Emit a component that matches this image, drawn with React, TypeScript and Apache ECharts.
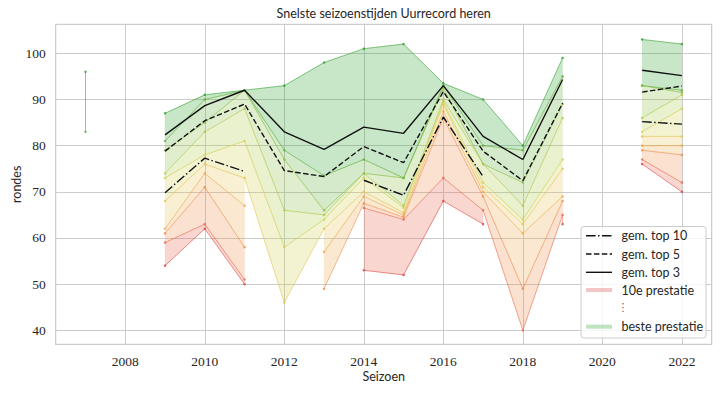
import React, { useEffect, useRef } from "react";
import * as echarts from "echarts";

// ---- data ----
const seasons = [2007, 2008, 2009, 2010, 2011, 2012, 2013, 2014, 2015, 2016, 2017, 2018, 2019, 2020, 2021, 2022];

// sorted performances (laps) per season, best first
const perf2007 = [96, 83];
const perf2008: number[] = [];
const perf2009 = [87, 81, 79, 74, 73, 68, 62, 61, 59, 54];
const perf2010 = [91, 90, 85, 83, 78, 76, 74, 71, 63, 62];
const perf2011 = [92, 92, 92, 88, 81, 73, 67, 58, 51, 50];
const perf2012 = [93, 79, 77, 66, 58, 46];
const perf2013 = [98, 73.5, 66, 65, 64, 62, 57, 49];
const perf2014 = [101, 77, 74, 74, 73, 70, 69, 67.5, 66.5, 53];
const perf2015 = [102, 73, 73, 67, 66.5, 65.5, 65, 64.5, 64, 52];
const perf2016 = [93.5, 93, 92.5, 90, 89.5, 89, 87.5, 86, 73, 68];
const perf2017 = [90, 80, 76, 76, 72, 71, 70, 69, 66, 63];
const perf2018 = [80, 79, 72, 67, 64, 63, 61, 49, 40];
const perf2019 = [99, 95, 89, 86, 77, 75, 69, 68, 65, 63];
const perf2020: number[] = [];
const perf2021 = [103, 93, 93, 86, 83, 82, 80, 79, 77, 76];
const perf2022 = [102, 92, 91.5, 91, 88, 82, 80, 78, 72, 70];

const performances = [
  perf2007, perf2008, perf2009, perf2010, perf2011, perf2012, perf2013, perf2014,
  perf2015, perf2016, perf2017, perf2018, perf2019, perf2020, perf2021, perf2022,
];

const xTicks = [2008, 2010, 2012, 2014, 2016, 2018, 2020, 2022];
const yTicks = [40, 50, 60, 70, 80, 90, 100];

const meanLabels = ["gem. top 10", "gem. top 5", "gem. top 3"];
const meanCounts = [10, 5, 3];

const rankColors = [
  "#2ca02c", "#5aae35", "#86bc3e", "#aec847", "#d0cf4f",
  "#e6c350", "#efa64c", "#ef8a4a", "#e8664a", "#d94040",
];

// ---- helpers ----
const X_MIN = 2006.25;
const X_MAX = 2022.75;
const Y_MIN = 36.97;
const Y_MAX = 106.28;

function rgba(hex: string, a: number) {
  const n = parseInt(hex.slice(1), 16);
  return `rgba(${(n >> 16) & 255},${(n >> 8) & 255},${n & 255},${a})`;
}

function valueAt(i: number, r: number): number | null {
  const p = performances[i];
  return r < p.length ? p[r] : null;
}

function meanTop(i: number, n: number): number | null {
  const p = performances[i];
  if (p.length < n) return null;
  let s = 0;
  for (let k = 0; k < n; k++) s += p[k];
  return s / n;
}

function runsFor(r: number): number[][] {
  const runs: number[][] = [];
  let cur: number[] = [];
  seasons.forEach((_, i) => {
    const ok = valueAt(i, r) != null && valueAt(i, r + 1) != null;
    if (ok) cur.push(i);
    else {
      if (cur.length) runs.push(cur);
      cur = [];
    }
  });
  if (cur.length) runs.push(cur);
  return runs;
}

const SANS = "Lato";
const SERIF = "Liberation Serif";
const TXT = "#262626";

function buildOption(): any {
  const series: any[] = [];

  // bands between consecutive ranks
  for (let r = 0; r < 9; r++) {
    const runs = runsFor(r);
    const color = rankColors[r];
    series.push({
      type: "custom",
      silent: true,
      z: 1,
      clip: false,
      data: runs.map((run) => [seasons[run[0]], valueAt(run[0], r)]),
      renderItem: (params: any, api: any) => {
        const run = runs[params.dataIndex];
        const top = run.map((i) => api.coord([seasons[i], valueAt(i, r)]));
        const bot = run.map((i) => api.coord([seasons[i], valueAt(i, r + 1)])).reverse();
        if (run.length === 1) {
          return {
            type: "line",
            shape: { x1: top[0][0], y1: top[0][1], x2: bot[0][0], y2: bot[0][1] },
            style: { stroke: rgba(color, 0.55), lineWidth: 1 },
          };
        }
        return {
          type: "polygon",
          shape: { points: [...top, ...bot] },
          style: { fill: rgba(color, 0.26), stroke: rgba(color, 0.12), lineWidth: 0.5 },
        };
      },
    });
  }

  // rank lines
  for (let r = 0; r < 10; r++) {
    const color = rankColors[r];
    series.push({
      type: "line",
      silent: true,
      z: 2,
      data: seasons.map((s, i) => [s, valueAt(i, r)]),
      connectNulls: false,
      showSymbol: true,
      symbol: "circle",
      symbolSize: 2.5,
      lineStyle: { color: rgba(color, 0.55), width: 1 },
      itemStyle: { color: rgba(color, 0.8) },
    });
  }

  // mean lines
  const dashes: any[] = [[9.6, 2.4, 1.5, 2.4], [5.5, 2.4], "solid"];
  meanCounts.forEach((n, m) => {
    series.push({
      type: "line",
      name: meanLabels[m],
      silent: true,
      z: 3,
      data: seasons.map((s, i) => [s, meanTop(i, n)]),
      connectNulls: false,
      showSymbol: false,
      lineStyle: { color: "#111111", width: 1.4, type: dashes[m] },
    });
  });

  // legend (drawn)
  const lx1 = 586, lx2 = 612, tx = 621.5;
  const legendGraphics: any[] = [
    {
      type: "rect",
      shape: { x: 581, y: 226.5, width: 125, height: 111.5, r: 3 },
      style: { fill: "rgba(255,255,255,0.8)", stroke: "#cccccc", lineWidth: 1 },
      z: 100,
    },
  ];
  const entries = [
    { y: 235.7, label: meanLabels[0], stroke: "#111111", w: 1.4, dash: [9.6, 2.4, 1.5, 2.4] },
    { y: 254, label: meanLabels[1], stroke: "#111111", w: 1.4, dash: [5.5, 2.4] },
    { y: 272.3, label: meanLabels[2], stroke: "#111111", w: 1.4, dash: null },
    { y: 290, label: "10e prestatie", stroke: rgba(rankColors[9], 0.3), w: 4, dash: null },
    { y: 326.7, label: "beste prestatie", stroke: rgba(rankColors[0], 0.3), w: 4, dash: null },
  ];
  entries.forEach((e) => {
    legendGraphics.push({
      type: "line",
      shape: { x1: lx1, y1: e.y, x2: lx2, y2: e.y },
      style: { stroke: e.stroke, lineWidth: e.w, lineDash: e.dash || undefined },
      z: 101,
    });
    legendGraphics.push({
      type: "text",
      x: tx,
      y: e.y,
      style: { text: e.label, fontFamily: SANS, fontSize: 12.5, fill: TXT, textAlign: "left", textVerticalAlign: "middle" },
      z: 101,
    });
  });
  legendGraphics.push({
    type: "text",
    x: 623,
    y: 307,
    style: { text: "⋮", fontFamily: "DejaVu Sans", fontSize: 11, fill: "#666666", textAlign: "center", textVerticalAlign: "middle" },
    z: 101,
  });

  return {
    animation: false,
    backgroundColor: "#ffffff",
    grid: {
      left: 55.7,
      right: 8.3,
      top: 24.3,
      bottom: 48.7,
      containLabel: false,
      outerBoundsMode: "none",
      show: true,
      borderColor: "#cccccc",
      borderWidth: 1.2,
      backgroundColor: "transparent",
    },
    xAxis: {
      type: "value",
      min: X_MIN,
      max: X_MAX,
      splitNumber: 8,
      name: "Seizoen",
      nameLocation: "middle",
      nameGap: 26,
      nameMoveOverlap: false,
      nameTextStyle: { fontFamily: SANS, fontSize: 12.5, color: TXT },
      axisLine: { show: false },
      axisTick: { show: false },
      axisLabel: {
        margin: 10,
        fontFamily: SERIF,
        fontSize: 13.5,
        color: TXT,
        formatter: (v: number) => (xTicks.indexOf(Math.round(v * 1000) / 1000) >= 0 ? String(v) : ""),
      },
      splitLine: { show: true, lineStyle: { color: "#cccccc", width: 1 } },
    },
    yAxis: {
      type: "value",
      min: Y_MIN,
      max: Y_MAX,
      splitNumber: 7,
      name: "rondes",
      nameLocation: "middle",
      nameGap: 33,
      nameMoveOverlap: false,
      nameTextStyle: { fontFamily: SANS, fontSize: 12.5, color: TXT },
      axisLine: { show: false },
      axisTick: { show: false },
      axisLabel: {
        margin: 10,
        fontFamily: SERIF,
        fontSize: 13.5,
        color: TXT,
        formatter: (v: number) => (yTicks.indexOf(Math.round(v * 1000) / 1000) >= 0 ? String(v) : ""),
      },
      splitLine: { show: true, lineStyle: { color: "#cccccc", width: 1 } },
    },
    graphic: [
      {
        type: "text",
        x: 383.7,
        y: 13,
        style: {
          text: "Snelste seizoenstijden Uurrecord heren",
          fontFamily: SANS,
          fontSize: 12.5,
          fill: TXT,
          textAlign: "center",
          textVerticalAlign: "middle",
        },
      },
      ...legendGraphics,
    ],
    series,
  };
}

export default function App() {
  const ref = useRef<HTMLDivElement>(null);
  useEffect(() => {
    if (!ref.current) return;
    const chart = echarts.init(ref.current, undefined, { renderer: "svg" });
    chart.setOption(buildOption());
    return () => chart.dispose();
  }, []);
  return (
    <div
      ref={ref}
      style={{ position: "fixed", left: 0, top: 0, width: 720, height: 393, background: "#fff" }}
    />
  );
}
